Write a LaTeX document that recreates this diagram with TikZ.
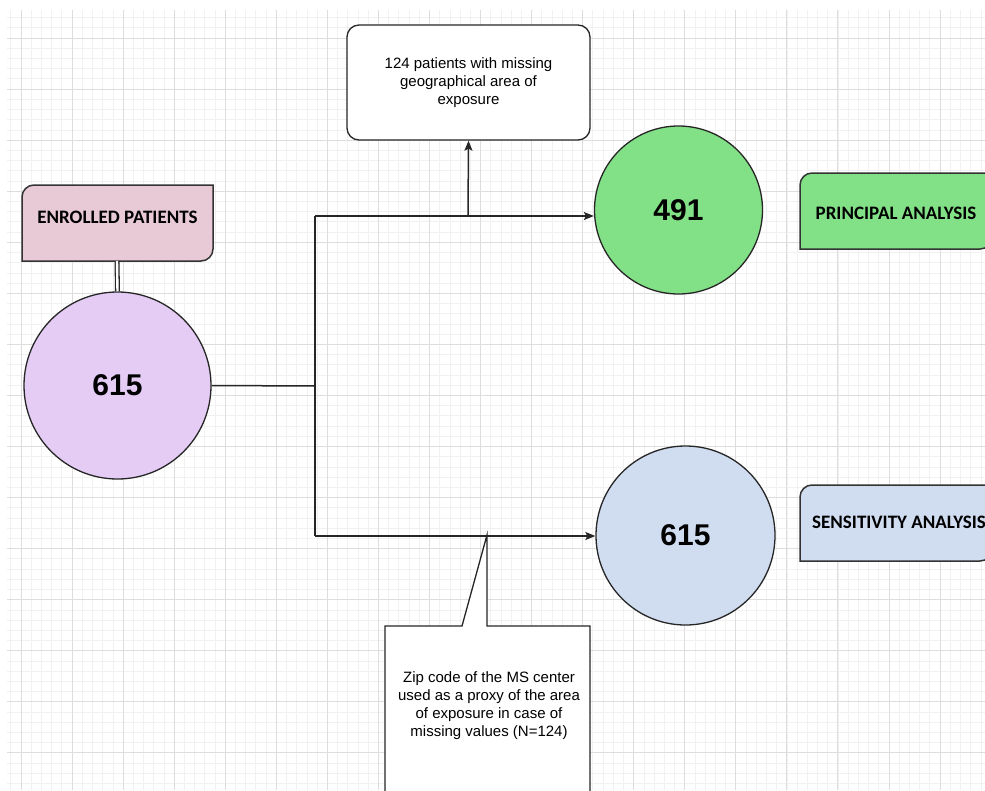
\documentclass[tikz,border=0pt]{standalone}
\usepackage{fontspec}
\setmainfont{Liberation Sans}
\newfontfamily\tagfont{Carlito}
\usepackage{xcolor}
\usetikzlibrary{arrows.meta}

\definecolor{lavender}{HTML}{E4CCF5}
\definecolor{mint}{HTML}{82E086}
\definecolor{paleblue}{HTML}{D0DCF0}
\definecolor{rose}{HTML}{E8CAD6}
\definecolor{gridmajor}{HTML}{DDDDDD}
\definecolor{gridminor}{HTML}{F1F1F1}

\begin{document}
\begin{tikzpicture}[x=1pt,y=1pt,
    count/.style={circle,draw=black!85,line width=1.3pt,minimum size=#1,inner sep=0pt,
      font=\fontsize{30}{36}\selectfont\bfseries},
    tag/.style={draw=black!80,line width=1.5pt},
    tagtext/.style={font=\tagfont\fontsize{19}{23}\selectfont\bfseries},
    note/.style={draw=black!85,line width=1.3pt,fill=white,align=center,
      font=\fontsize{15}{18}\selectfont},
    link/.style={draw=black!85,line width=1.5pt},
    arr/.style={link,-{Stealth[length=10pt,width=8pt,inset=2pt]}}]

    \useasboundingbox (0,0) rectangle (985,-790);
    \clip (0,0) rectangle (985,-790);
    \fill[white] (0,0) rectangle (985,-790);

    % background grid
    \foreach \j in {0,...,95}
        \draw[gridminor,line width=0.8pt] ({10.8+10.212*\j},-10) -- ({10.8+10.212*\j},-790);
    \foreach \j in {0,...,75}
        \draw[gridminor,line width=0.8pt] (7,{-17.6-10.212*\j}) -- (985,{-17.6-10.212*\j});
    \foreach \k in {0,...,18}
        \draw[gridmajor,line width=1pt] ({21+51.06*\k},-10) -- ({21+51.06*\k},-790);
    \foreach \k in {0,...,14}
        \draw[gridmajor,line width=1pt] (7,{-38-51.06*\k}) -- (985,{-38-51.06*\k});

    % tabs
    \draw[tag,fill=rose] (22,-261) -- (22,-197) arc[start angle=180,end angle=90,radius=12]
        -- (213,-185) -- (213,-249) arc[start angle=0,end angle=-90,radius=12] -- cycle;
    \draw[tag,fill=mint] (800,-249) -- (800,-185) arc[start angle=180,end angle=90,radius=12]
        -- (992,-173) -- (992,-237) arc[start angle=0,end angle=-90,radius=12] -- cycle;
    \draw[tag,fill=paleblue] (800,-561) -- (800,-497) arc[start angle=180,end angle=90,radius=12]
        -- (992,-485) -- (992,-549) arc[start angle=0,end angle=-90,radius=12] -- cycle;
    \node[tagtext] (enrolled) at (117.5,-217) {ENROLLED PATIENTS};
    \node[tagtext] (principal) at (896,-213) {PRINCIPAL ANALYSIS};
    \node[tagtext] (sensitivity) at (899,-522) {SENSITIVITY ANALYSIS};
    \coordinate (enrolledfoot) at (117,-261);

    % counts
    \node[count=187pt,fill=lavender] (all) at (117.5,-385.5) {615};
    \node[count=168pt,fill=mint] (kept) at (678.5,-210) {491};
    \node[count=179pt,fill=paleblue] (imputed) at (685.5,-535.5) {615};

    % notes
    \node[note,rounded corners=12pt,minimum width=243pt,minimum height=115pt] (missing)
        at (468.5,-82.5) {124 patients with missing\\ geographical area of\\ exposure};
    \draw[draw=black!85,line width=1.3pt,fill=white] (385,-800) -- (385,-626) -- (462,-626)
        -- (487,-535) -- (487,-626) -- (590,-626) -- (590,-800);
    \node[align=center,font=\fontsize{15}{18}\selectfont] (proxy) at (489,-706)
        {Zip code of the MS center\\ used as a proxy of the area\\ of exposure in case of\\ missing values (N=124)};

    % connectors
    \coordinate (split) at (315,-386);
    \coordinate (upper) at (315,-216);
    \coordinate (lower) at (315,-536);
    \coordinate (fork) at (468,-216);
    \draw[black!85,line width=1.3pt,double,double distance=2.4pt] (enrolledfoot) -- (all.north);
    \draw[link] (all.east) -- (split);
    \draw[link] (upper) -- (lower);
    \draw[arr] (upper) -- (upper -| kept.west);
    \draw[arr] (lower) -- (lower -| imputed.west);
    \draw[arr] (fork) -- (missing.south);
\end{tikzpicture}
\end{document}
